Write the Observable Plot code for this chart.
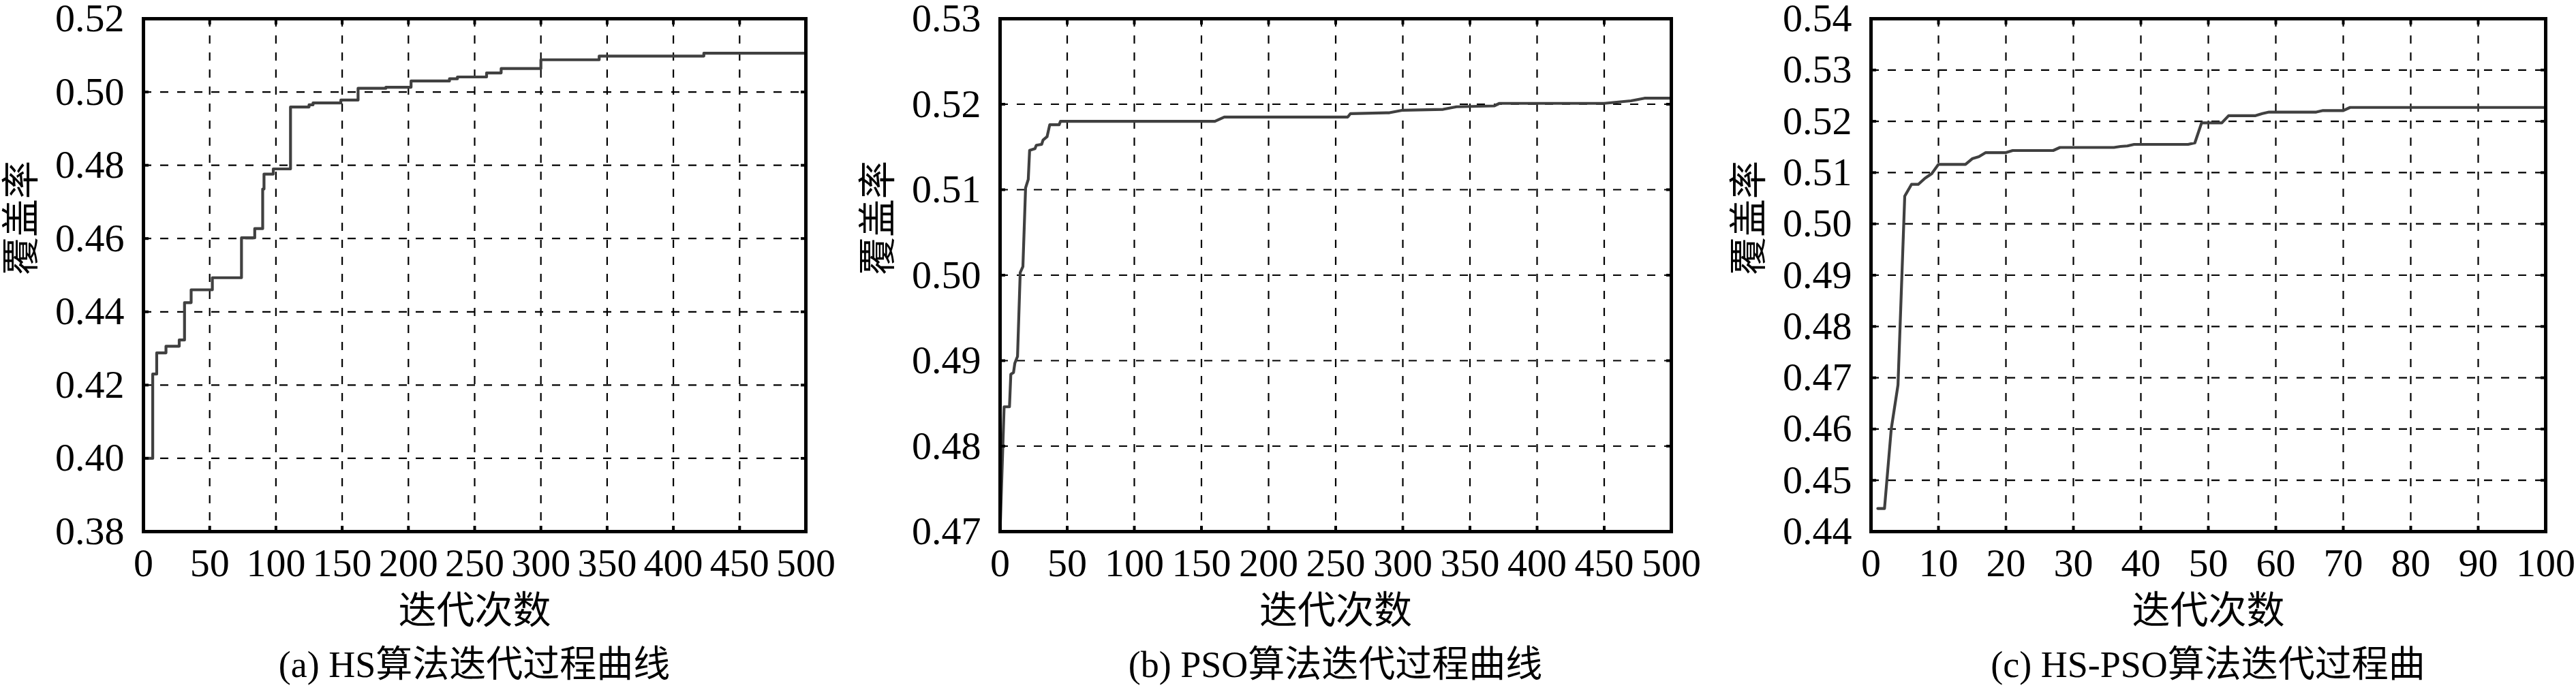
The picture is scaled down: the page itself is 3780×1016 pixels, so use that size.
<!DOCTYPE html>
<html>
<head>
<meta charset="utf-8">
<script src="https://cdn.jsdelivr.net/npm/d3@7"></script>
<script src="https://cdn.jsdelivr.net/npm/@observablehq/plot@0.6"></script>
<style>
  body { margin: 0; background: #fff; }
  #root { position: relative; width: 3780px; height: 1016px; overflow: hidden; background: #fff;
          font-family: "Liberation Serif", "Noto Sans CJK SC", serif; color: #000; }
  #root svg, #root svg text, #root svg g { font-family: "Liberation Serif", "Noto Sans CJK SC", serif !important; }
  .panel { position: absolute; top: 0; }
  .cap { position: absolute; font-size: 54px; line-height: 60px; text-align: center; white-space: nowrap; color: #000;
         font-family: "Liberation Serif", "Noto Sans CJK SC", serif; }
</style>
</head>
<body>
<div id="root"></div>
<script>
// ---------------- data ----------------
// (a) HS algorithm: best coverage (step changes)
const hsIter  = [0, 7, 10, 17, 27, 31, 36, 52, 74, 84, 90, 91, 98, 111, 125, 128, 149, 162, 183, 202, 231, 237, 259, 270, 300, 344, 423, 500];
const hsCover = [0.400, 0.4230, 0.4288, 0.4306, 0.4323, 0.4425, 0.4460, 0.4493, 0.4602, 0.4627, 0.4735, 0.4776, 0.4790, 0.4959, 0.4965, 0.4970, 0.4978, 0.5010, 0.5013, 0.5030, 0.5036, 0.5041, 0.5052, 0.5064, 0.5088, 0.5098, 0.5106, 0.5106];

// (b) PSO algorithm
const psoIter  = [0, 3, 7, 8, 10, 11, 13, 15, 17, 19, 21, 22, 26, 27, 31, 32, 35, 37, 44, 45, 160, 167, 259, 261, 290, 300, 330, 340, 368, 372, 450, 470, 480, 500];
const psoCover = [0.4700, 0.4846, 0.4846, 0.4884, 0.4886, 0.4897, 0.4905, 0.5003, 0.5010, 0.5102, 0.5112, 0.5146, 0.5148, 0.5152, 0.5153, 0.5158, 0.5162, 0.5176, 0.5176, 0.5180, 0.5180, 0.5185, 0.5185, 0.5189, 0.5190, 0.5193, 0.5194, 0.5197, 0.5198, 0.5201, 0.5201, 0.5204, 0.5207, 0.5207];

// (c) HS-PSO algorithm
const hspsoIter  = [1, 2, 3, 4, 5, 6, 7, 8, 9, 10, 14, 15, 16, 17, 20, 21, 27, 28, 36, 37, 38, 39, 47, 48, 49, 52, 53, 57, 58, 59, 66, 67, 70, 71, 100];
const hspsoCover = [0.4445, 0.4445, 0.4600, 0.4686, 0.5054, 0.5077, 0.5077, 0.5089, 0.5098, 0.5116, 0.5116, 0.5127, 0.5131, 0.5139, 0.5139, 0.5143, 0.5143, 0.5149, 0.5149, 0.5151, 0.5152, 0.5155, 0.5155, 0.5158, 0.5197, 0.5197, 0.5211, 0.5211, 0.5215, 0.5218, 0.5218, 0.5221, 0.5221, 0.5227, 0.5227];

// tick values
const xTicks500 = [0, 50, 100, 150, 200, 250, 300, 350, 400, 450, 500];
const xTicks100 = [0, 10, 20, 30, 40, 50, 60, 70, 80, 90, 100];
const yTicksA = [0.38, 0.40, 0.42, 0.44, 0.46, 0.48, 0.50, 0.52];
const yTicksB = [0.47, 0.48, 0.49, 0.50, 0.51, 0.52, 0.53];
const yTicksC = [0.44, 0.45, 0.46, 0.47, 0.48, 0.49, 0.50, 0.51, 0.52, 0.53, 0.54];

// texts
const yTitle = "覆盖率";
const xTitle = "迭代次数";
const captions = ["(a) HS算法迭代过程曲线", "(b) PSO算法迭代过程曲线", "(c) HS-PSO算法迭代过程曲"];

// ---------------- drawing ----------------
const FONT = '"Liberation Serif", "Noto Sans CJK SC", serif';
const root = document.getElementById("root");

function panel({iter, cover, curve, xTicks, yTicks, left, right, caption}) {
  const mL = 200, mR = 45, mT = 27, mB = 165, H = 945;
  const W = (right - left) + mL + mR;
  const data = iter.map((x, i) => ({x, y: cover[i]}));
  const grid = {stroke: "#000", strokeOpacity: 1, strokeWidth: 2.2, strokeDasharray: "12,13"};
  const svg = Plot.plot({
    width: W, height: H,
    marginLeft: mL, marginRight: mR, marginTop: mT, marginBottom: mB,
    style: {fontFamily: FONT, color: "#000", background: "transparent", overflow: "visible"},
    x: {domain: [xTicks[0], xTicks[xTicks.length - 1]], label: null},
    y: {domain: [yTicks[0], yTicks[yTicks.length - 1]], label: null},
    marks: [
      Plot.gridX(xTicks.slice(1, -1), grid),
      Plot.gridY(yTicks.slice(1, -1), grid),
      Plot.line(data, {x: "x", y: "y", curve, stroke: "#404040", strokeWidth: 4.2}),
      Plot.axisX(xTicks, {anchor: "bottom", tickSize: -8, tickPadding: 32, strokeWidth: 4, fontSize: 58, fontFamily: FONT, fill: "#000", label: null}),
      Plot.axisX(xTicks, {anchor: "top", tickSize: -8, strokeWidth: 4, tickFormat: () => "", label: null}),
      Plot.axisY(yTicks, {anchor: "left", tickSize: -8, tickPadding: 36, strokeWidth: 4, fontSize: 58, fontFamily: FONT, fill: "#000", tickFormat: d3.format(".2f"), label: null}),
      Plot.axisY(yTicks, {anchor: "right", tickSize: -8, strokeWidth: 4, tickFormat: () => "", label: null}),
      Plot.frame({stroke: "#000", strokeWidth: 5}),
      Plot.text([yTitle], {text: d => d, frameAnchor: "left", dx: -178, rotate: -90, lineAnchor: "middle", fontSize: 56, fontFamily: FONT, fill: "#000"}),
      Plot.text([xTitle], {text: d => d, frameAnchor: "bottom", dy: 117, lineAnchor: "middle", fontSize: 56, fontFamily: FONT, fill: "#000"})
    ]
  });
  // make sure every label uses the serif face
  svg.querySelectorAll("g, text").forEach(el => {
    el.setAttribute("font-family", FONT);
    el.style.setProperty("font-family", FONT, "important");
  });
  svg.style.setProperty("font-family", FONT, "important");
  const div = document.createElement("div");
  div.className = "panel";
  div.style.left = (left - mL) + "px";
  div.appendChild(svg);
  root.appendChild(div);
  const cap = document.createElement("div");
  cap.className = "cap";
  cap.style.left = left + "px";
  cap.style.width = (right - left) + "px";
  cap.style.top = (H + 1) + "px";
  cap.textContent = caption;
  root.appendChild(cap);
}

panel({iter: hsIter, cover: hsCover, curve: "step-after", xTicks: xTicks500, yTicks: yTicksA, left: 210, right: 1182, caption: captions[0]});
panel({iter: psoIter, cover: psoCover, curve: "linear", xTicks: xTicks500, yTicks: yTicksB, left: 1467, right: 2452, caption: captions[1]});
panel({iter: hspsoIter, cover: hspsoCover, curve: "linear", xTicks: xTicks100, yTicks: yTicksC, left: 2745, right: 3735, caption: captions[2]});
</script>
</body>
</html>
